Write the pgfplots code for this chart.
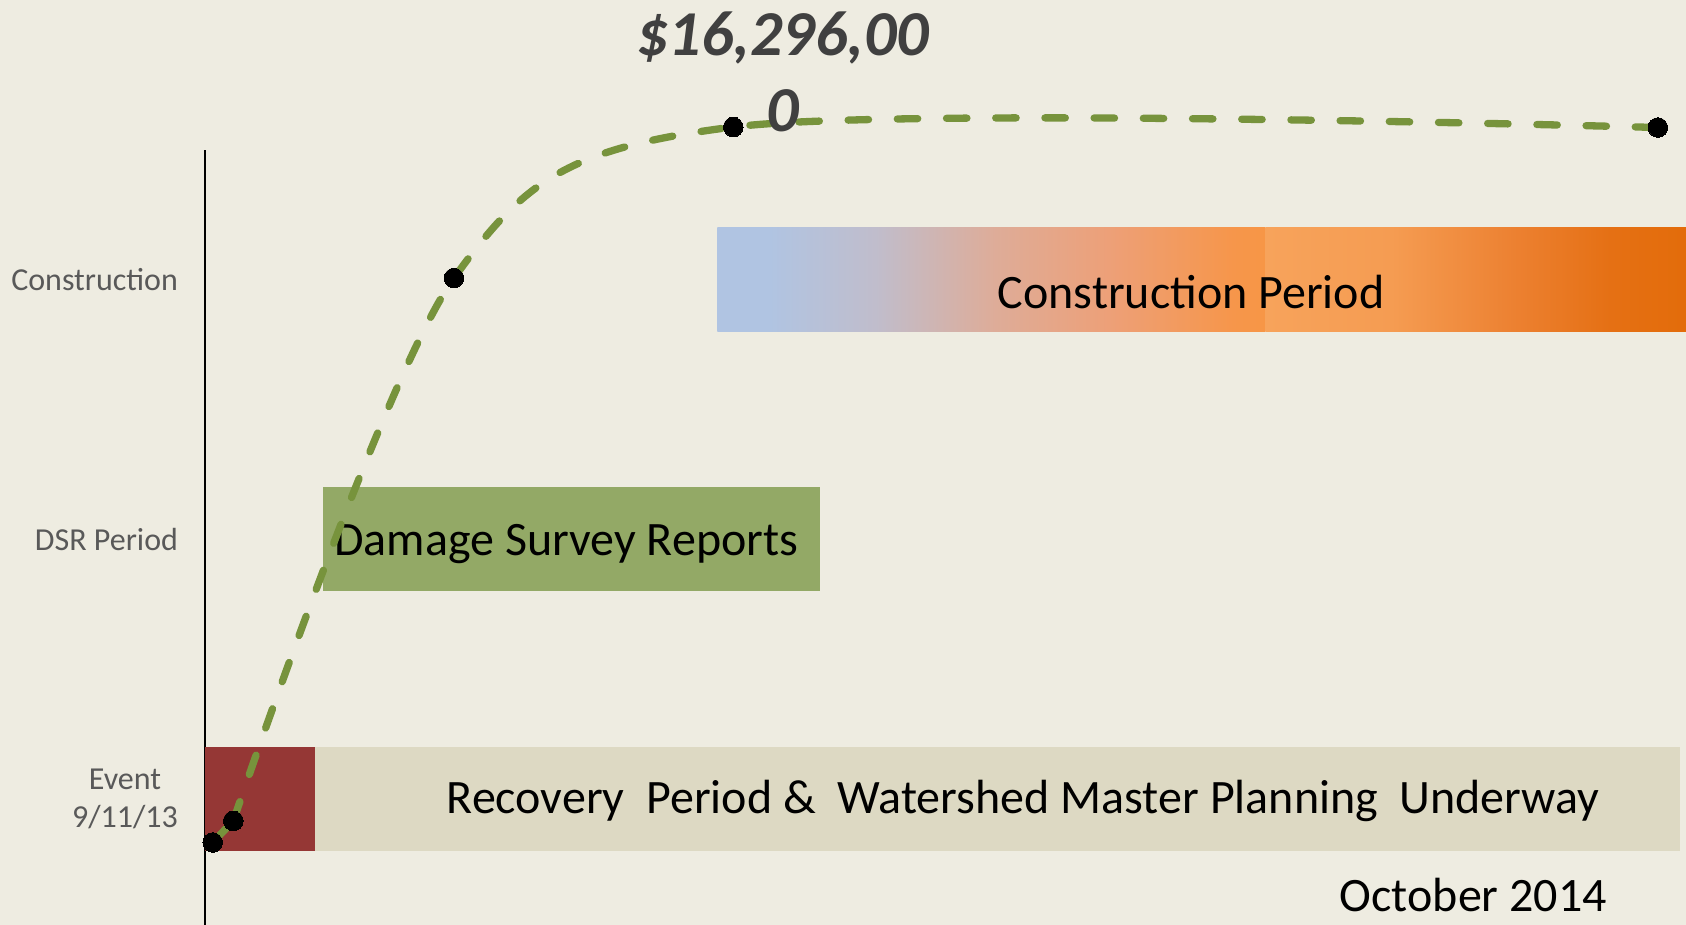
\documentclass[border=0pt]{standalone}
\usepackage{pgfplots}
\pgfplotsset{compat=1.18}
\usepackage{fontspec}
\setmainfont{Carlito}

\definecolor{bgcol}{HTML}{EEECE1}
\definecolor{tancol}{HTML}{DDD9C3}
\definecolor{eventred}{HTML}{953735}
\definecolor{dsrgreen}{RGB}{147,169,102}
\definecolor{lineg}{HTML}{77933C}
\definecolor{cblue}{RGB}{176,196,226}
\definecolor{corange}{HTML}{F79646}
\definecolor{clight}{RGB}{247,163,91}
\definecolor{cdark}{HTML}{E36C0A}
\definecolor{tickgrey}{HTML}{595959}
\definecolor{labgrey}{HTML}{404040}

% path bbox maps to 25bp..75bp of the shading
\pgfdeclarehorizontalshading{consA}{100bp}{color(0bp)=(cblue); color(25bp)=(cblue); color(29.7bp)=(cblue);
  color(39.4bp)=(rgb,255:red,192;green,189;blue,204); color(50.4bp)=(rgb,255:red,222;green,172;blue,152);
  color(60.7bp)=(rgb,255:red,237;green,160;blue,120); color(72bp)=(rgb,255:red,246;green,150;blue,75);
  color(75bp)=(corange); color(100bp)=(corange)}
\pgfdeclarehorizontalshading{consB}{100bp}{color(0bp)=(clight); color(25bp)=(clight);
  color(40bp)=(rgb,255:red,245;green,156;blue,82); color(55bp)=(rgb,255:red,236;green,128;blue,48);
  color(66bp)=(rgb,255:red,229;green,112;blue,20); color(75bp)=(cdark); color(100bp)=(cdark)}

\begin{document}
\begin{tikzpicture}
\fill[bgcol] (0,0) rectangle (843pt,462.5pt);
\useasboundingbox (0,0) rectangle (843pt,462.5pt);

% bars (time on x, phases on y)
\begin{axis}[
    at={(102.5pt,0pt)}, anchor=south west,
    scale only axis,
    width=740.5pt, height=387.5pt,
    xmin=0, xmax=100,
    ymin=0.514, ymax=3.5,
    clip=false,
    axis x line=none,
    axis y line*=left,
    y axis line style={-, line width=1pt, black},
    ytick={1,2,3},
    yticklabels={{Event\\9/11/13},{DSR Period},{Construction}},
    yticklabel style={font=\fontsize{16}{19}\selectfont, text=tickgrey, align=center, xshift=-10pt},
    major tick length=0pt,
    ytick style={draw=none},
]
% Recovery period row
\addplot[fill=tancol, draw=none] coordinates {(7.4,0.8) (99.6,0.8) (99.6,1.2) (7.4,1.2)} -- cycle;
\addplot[fill=eventred, draw=none] coordinates {(0,0.8) (7.4,0.8) (7.4,1.2) (0,1.2)} -- cycle;
% DSR row
\addplot[fill=dsrgreen, draw=none] coordinates {(8.0,1.8) (41.5,1.8) (41.5,2.2) (8.0,2.2)} -- cycle;
% Construction row
\addplot[draw=none, shading=consA] coordinates {(34.6,2.8) (71.6,2.8) (71.6,3.2) (34.6,3.2)} -- cycle;
\addplot[draw=none, shading=consB] coordinates {(71.6,2.8) (100,2.8) (100,3.2) (71.6,3.2)} -- cycle;

\tikzset{barlab/.style={anchor=base west, inner sep=0pt, font=\fontsize{24}{29}\selectfont}}
\node[barlab] at (axis cs:16.3,0.942)
    {Recovery\ \ Period \&\ \ Watershed Master Planning\ \ Underway};
\node[barlab] at (axis cs:8.7,1.938) {Damage Survey Reports};
\node[barlab] at (axis cs:53.5,2.888) {Construction Period};
\node[barlab] at (axis cs:76.6,0.565) {October 2014};
\end{axis}

% cumulative cost curve
\begin{axis}[
    at={(102.5pt,0pt)}, anchor=south west,
    scale only axis,
    width=729pt, height=462.5pt,
    xmin=0, xmax=98.45,
    ymin=0.514, ymax=4.0785,
    axis lines=none,
    ticks=none,
]
\pgfplotsset{cost/.style={color=lineg, line width=3.65pt, line cap=round,
    dash pattern=on 10.2pt off 14.4pt,
    mark=*, mark size=4.9pt,
    mark options={solid, fill=black, draw=black, line width=0pt}}}
\addplot[cost, sharp plot] coordinates {(0.52,0.832) (1.91,0.915)};
\addplot[cost, smooth] coordinates {
    (1.91,0.915) (16.81,3.007) (35.67,3.589) (98.1,3.587)
};
\node[anchor=base, font=\fontsize{32}{38}\selectfont\bfseries\itshape, text=labgrey]
    at (axis cs:39.0,3.863) {\$16,296,00};
\node[anchor=base, font=\fontsize{32}{38}\selectfont\bfseries\itshape, text=labgrey]
    at (axis cs:39.0,3.570) {0};
\end{axis}
\end{tikzpicture}
\end{document}
